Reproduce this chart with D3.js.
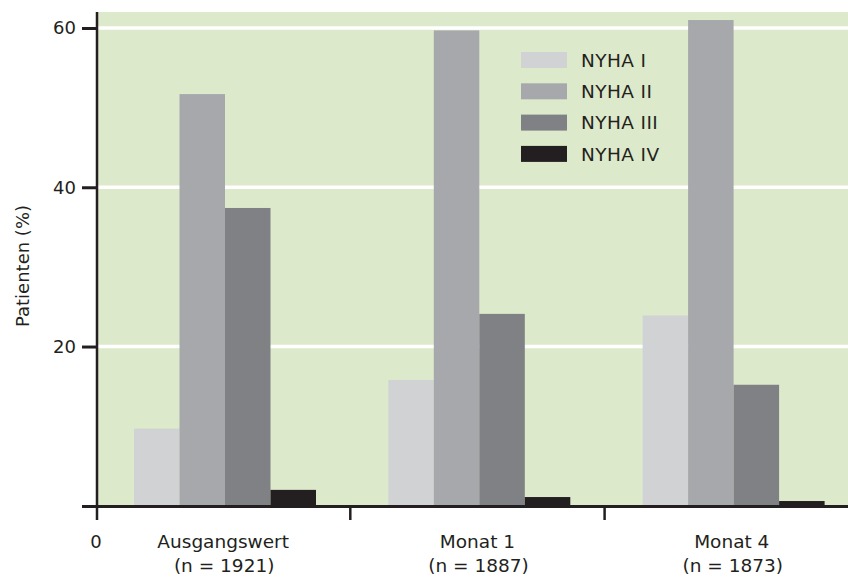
<!DOCTYPE html>
<html>
<head>
<meta charset="utf-8">
<script src="https://cdn.jsdelivr.net/npm/d3@7"></script>
<style>
	body { margin: 0; background: #fff; }
	text { font-family: "DejaVu Sans", Verdana, sans-serif; fill: #231f20; }
</style>
</head>
<body>
<div class="plot-container"></div>
<script>
// data
const groups = ["Ausgangswert", "Monat 1", "Monat 4"];
const groupN = ["(n = 1921)", "(n = 1887)", "(n = 1873)"];
const classes = ["NYHA I", "NYHA II", "NYHA III", "NYHA IV"];
const nyha1 = [9.7, 15.8, 23.9];
const nyha2 = [51.7, 59.7, 61.0];
const nyha3 = [37.4, 24.1, 15.2];
const nyha4 = [2.0, 1.1, 0.6];
const yTicks = [20, 40, 60];

const colors = ["#d1d2d4", "#a7a8ab", "#808184", "#231f20"];
const series = [nyha1, nyha2, nyha3, nyha4];

const width = 848, height = 577;
const margin = {top: 12, left: 97, bottom: 506};

const svg = d3.select(".plot-container").append("svg")
	.attr("width", width)
	.attr("height", height);

const x = d3.scaleBand()
	.domain(groups)
	.range([96, 96 + 3 * 254.3]);

// bars sit inside each band with some room on both sides
const xInner = d3.scaleBand()
	.domain(classes)
	.range([38, 220]);

const y = d3.scaleLinear()
	.domain([0, 60])
	.range([505.8, 28]);

const color = d3.scaleOrdinal().domain(classes).range(colors);

// background
svg.append("rect")
	.attr("x", 98)
	.attr("y", margin.top)
	.attr("width", width - 98)
	.attr("height", y(0) - margin.top)
	.attr("fill", "#dde9cb");

// white gridlines
svg.append("g")
	.selectAll("line")
	.data(yTicks)
	.join("line")
		.attr("x1", 98)
		.attr("x2", width)
		.attr("y1", d => y(d))
		.attr("y2", d => y(d))
		.attr("stroke", "#fff")
		.attr("stroke-width", 3.5);

// bars
const barData = groups.flatMap((g, i) => classes.map((c, j) => ({group: g, cls: c, value: series[j][i]})));
svg.append("g")
	.selectAll("rect")
	.data(barData)
	.join("rect")
		.attr("x", d => x(d.group) + xInner(d.cls))
		.attr("y", d => y(d.value))
		.attr("width", xInner.bandwidth())
		.attr("height", d => y(0) - y(d.value))
		.attr("fill", d => color(d.cls));

// y axis
const yAxisG = svg.append("g")
	.attr("transform", `translate(${margin.left},0)`)
	.call(d3.axisLeft(y).tickValues(yTicks).tickSize(15).tickPadding(6));
yAxisG.select(".domain").remove();
yAxisG.selectAll("line").attr("stroke", "#231f20").attr("stroke-width", 3);
yAxisG.selectAll("text")
	.attr("font-size", 18)
	.attr("font-family", "DejaVu Sans")
	.attr("fill", "#231f20");

svg.append("line")
	.attr("x1", margin.left).attr("x2", margin.left)
	.attr("y1", margin.top).attr("y2", 520)
	.attr("stroke", "#231f20")
	.attr("stroke-width", 2.5);

// x axis
svg.append("line")
	.attr("x1", 82).attr("x2", width)
	.attr("y1", 506.5).attr("y2", 506.5)
	.attr("stroke", "#231f20")
	.attr("stroke-width", 3);

svg.append("g")
	.selectAll("line")
	.data(groups.slice(1))
	.join("line")
		.attr("x1", d => x(d)).attr("x2", d => x(d))
		.attr("y1", 506).attr("y2", 520)
		.attr("stroke", "#231f20")
		.attr("stroke-width", 2.5);

svg.append("text")
	.attr("x", 96)
	.attr("y", 548)
	.attr("text-anchor", "middle")
	.attr("font-size", 18)
	.text("0");

const labels = svg.append("g")
	.selectAll("text")
	.data(groups)
	.join("text")
		.attr("text-anchor", "middle")
		.attr("font-size", 18.5);
labels.append("tspan")
	.attr("x", d => x(d) + x.bandwidth() / 2)
	.attr("y", 548)
	.text(d => d);
labels.append("tspan")
	.attr("x", d => x(d) + x.bandwidth() / 2 + 1)
	.attr("y", 572)
	.text((d, i) => groupN[i]);

svg.append("text")
	.attr("transform", "translate(29,266) rotate(-90)")
	.attr("text-anchor", "middle")
	.attr("font-size", 18)
	.text("Patienten (%)");

// legend
const legend = svg.append("g")
	.attr("transform", "translate(521,52)")
	.selectAll("g")
	.data(classes)
	.join("g")
		.attr("transform", (d, i) => `translate(0,${i * 31.3})`);
legend.append("rect")
	.attr("width", 46)
	.attr("height", 16)
	.attr("fill", d => color(d));
legend.append("text")
	.attr("x", 60)
	.attr("y", 8)
	.attr("dy", "0.36em")
	.attr("font-size", 18.5)
	.attr("letter-spacing", 0.4)
	.text(d => d);
</script>
</body>
</html>
